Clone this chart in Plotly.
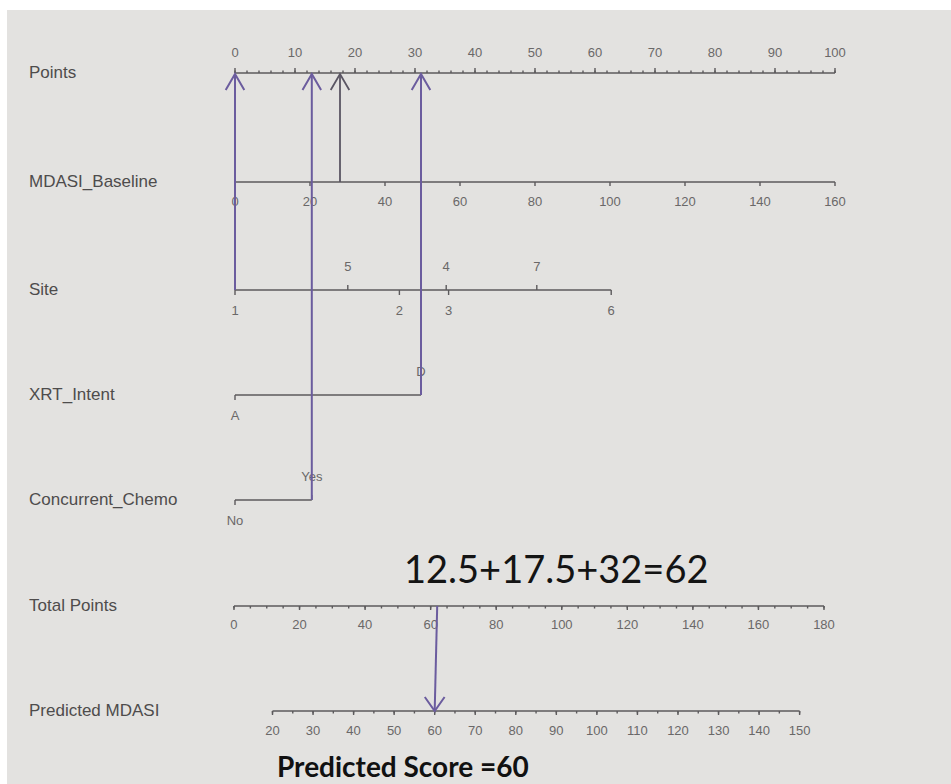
import plotly.graph_objects as go

# ---------------- data ----------------
row_names = ["Points", "MDASI_Baseline", "Site", "XRT_Intent",
             "Concurrent_Chemo", "Total Points", "Predicted MDASI"]

points_ticks = list(range(0, 101, 10))
points_minor = list(range(0, 101, 2))

mdasi_ticks = list(range(0, 161, 20))
mdasi_max_points = 100.0          # MDASI 160 -> 100 points

site_levels = ["1", "5", "2", "4", "3", "7", "6"]
site_points = [0.0, 18.8, 27.4, 35.2, 35.6, 50.3, 62.7]
site_upper = ["5", "4", "7"]      # levels labelled above the line

xrt_levels = ["A", "D"]
xrt_points = [0.0, 31.0]
xrt_upper = ["D"]

chemo_levels = ["No", "Yes"]
chemo_points = [0.0, 12.8]
chemo_upper = ["Yes"]

total_ticks = list(range(0, 181, 20))
total_minor = list(range(0, 181, 5))
total_scale = (-0.17, 0.5463)      # points = a + b * total

pred_ticks = list(range(20, 151, 10))
pred_minor = list(range(20, 151, 5))
pred_scale = (6.25, 0.6758, 20)    # points = a + b * (pred - ref)

# worked example
ex_baseline = 28
ex_site = "1"
ex_xrt = "D"
ex_chemo = "Yes"
ex_total = 62
ex_pred = 60
sum_text = "12.5+17.5+32=62"
result_text = "Predicted Score =60"

# ---------------- layout / style ----------------
W, H = 951, 784
PX0, PXPU = 235.0, 6.0             # pixel of 0 points, pixels per point
ROW_Y = {"Points": 73, "MDASI_Baseline": 182, "Site": 290, "XRT_Intent": 395,
         "Concurrent_Chemo": 500, "Total Points": 606, "Predicted MDASI": 711}
AXIS_COL = "#5c5a5c"
PURPLE = "#6b5c9e"
DARKLINE = "#5a5563"
TICK_COL = "#6a6868"
LABEL_COL = "#4e4c4c"
BG = "#e3e2e0"


def mdasi_pts(v):
    return v * mdasi_max_points / 160.0


def total_pts(t):
    return total_scale[0] + total_scale[1] * t


def pred_pts(p):
    return pred_scale[0] + pred_scale[1] * (p - pred_scale[2])


axis_x, axis_y = [], []


def seg(x0, y0, x1, y1, xs=axis_x, ys=axis_y):
    xs += [x0, x1, None]
    ys += [y0, y1, None]


def ruler(xvals, y, major, minor, direction, lmaj=5, lmin=2.5):
    seg(min(xvals + minor), y, max(xvals + minor), y)
    for v in minor:
        seg(v, y, v, y + direction * lmin)
    for v in major:
        seg(v, y, v, y + direction * lmaj)


texts = []  # (x, y, text)

# Points axis (ticks up, labels above)
yP = ROW_Y["Points"]
ruler(points_ticks, yP, points_ticks, points_minor, -1)
for v in points_ticks:
    texts.append((v, yP - 19, str(v)))

# MDASI baseline (ticks down)
yM = ROW_Y["MDASI_Baseline"]
mx = [mdasi_pts(v) for v in mdasi_ticks]
ruler(mx, yM, mx, [], 1, lmaj=4)
for v, x in zip(mdasi_ticks, mx):
    texts.append((x, yM + 21, str(v)))


def cat_axis(levels, pts, upper, y):
    seg(min(pts), y, max(pts), y)
    for lv, p in zip(levels, pts):
        d = -1 if lv in upper else 1
        seg(p, y, p, y + d * 5)
        texts.append((p, y + d * 22, lv))


cat_axis(site_levels, site_points, site_upper, ROW_Y["Site"])
cat_axis(xrt_levels, xrt_points, xrt_upper, ROW_Y["XRT_Intent"])
cat_axis(chemo_levels, chemo_points, chemo_upper, ROW_Y["Concurrent_Chemo"])

# Total points (ticks down)
yT = ROW_Y["Total Points"]
ruler([total_pts(v) for v in total_ticks], yT, [total_pts(v) for v in total_ticks],
      [total_pts(v) for v in total_minor], 1, lmaj=4, lmin=2.5)
for v in total_ticks:
    texts.append((total_pts(v), yT + 20, str(v)))

# Predicted MDASI (ticks down)
yR = ROW_Y["Predicted MDASI"]
ruler([pred_pts(v) for v in pred_ticks], yR, [pred_pts(v) for v in pred_ticks],
      [pred_pts(v) for v in pred_minor], 1, lmaj=4, lmin=2.5)
for v in pred_ticks:
    texts.append((pred_pts(v), yR + 21, str(v)))

# ---------------- worked-example arrows ----------------
pur_x, pur_y = [], []
dark_x, dark_y = [], []

site_x = site_points[site_levels.index(ex_site)]
xrt_x = xrt_points[xrt_levels.index(ex_xrt)]
chemo_x = chemo_points[chemo_levels.index(ex_chemo)]
base_x = mdasi_pts(ex_baseline)

AW, AH = 1.55, 16   # chevron half-width (points) / height (px)


def up_arrow(x, ybot, xs, ys):
    seg(x, ybot, x, yP + 1, xs, ys)
    xs += [x - AW, x, x + AW, None]
    ys += [yP + 1 + AH, yP + 1, yP + 1 + AH, None]


up_arrow(site_x, ROW_Y["Site"], pur_x, pur_y)
up_arrow(chemo_x, ROW_Y["Concurrent_Chemo"], pur_x, pur_y)
up_arrow(xrt_x, ROW_Y["XRT_Intent"], pur_x, pur_y)
up_arrow(base_x, yM, dark_x, dark_y)

tx, px = total_pts(ex_total), pred_pts(ex_pred)
seg(tx, yT, px, yR, pur_x, pur_y)
pur_x += [px - 1.65, px, px + 1.65, None]
pur_y += [yR - 14, yR, yR - 14, None]

# ---------------- figure ----------------
fig = go.Figure()

fig.add_trace(go.Scatter(
    x=[t[0] for t in texts], y=[t[1] for t in texts], text=[t[2] for t in texts],
    mode="text", textfont=dict(family="Liberation Sans, Arial", size=13, color=TICK_COL),
    hoverinfo="skip", showlegend=False))

fig.add_trace(go.Scatter(x=axis_x, y=axis_y, mode="lines",
                         line=dict(color=AXIS_COL, width=1.4),
                         hoverinfo="skip", showlegend=False))
fig.add_trace(go.Scatter(x=dark_x, y=dark_y, mode="lines",
                         line=dict(color=DARKLINE, width=1.8),
                         hoverinfo="skip", showlegend=False))
fig.add_trace(go.Scatter(x=pur_x, y=pur_y, mode="lines",
                         line=dict(color=PURPLE, width=2),
                         hoverinfo="skip", showlegend=False))

annotations = []
for name in row_names:
    annotations.append(dict(
        x=27 / W, y=1 - (ROW_Y[name] - 1) / H, xref="paper", yref="paper",
        text=name, showarrow=False, xanchor="left", yanchor="middle",
        font=dict(family="Liberation Sans, Arial", size=17, color=LABEL_COL)))

annotations.append(dict(
    x=556 / W, y=1 - 568 / H, xref="paper", yref="paper", text=sum_text,
    showarrow=False, xanchor="center", yanchor="middle",
    font=dict(family="Lato", size=38, color="#141414")))
annotations.append(dict(
    x=275 / W, y=1 - 766 / H, xref="paper", yref="paper", text="<b>" + result_text + "</b>",
    showarrow=False, xanchor="left", yanchor="middle",
    font=dict(family="Lato", size=28, color="#111111")))

xmin = -PX0 / PXPU
fig.update_layout(
    width=W, height=H, margin=dict(l=0, r=0, t=0, b=0),
    paper_bgcolor="#ffffff", plot_bgcolor="rgba(0,0,0,0)",
    xaxis=dict(range=[xmin, xmin + W / PXPU], visible=False, fixedrange=True),
    yaxis=dict(range=[H, 0], visible=False, fixedrange=True),
    shapes=[dict(type="rect", xref="paper", yref="paper",
                 x0=7 / W, x1=1, y0=0, y1=1 - 10 / H,
                 fillcolor=BG, line=dict(width=0), layer="below")],
    annotations=annotations,
)

fig.write_html("out.html", config={"displayModeBar": False},
               post_script="document.body.style.margin='0';document.body.style.overflow='hidden';")
